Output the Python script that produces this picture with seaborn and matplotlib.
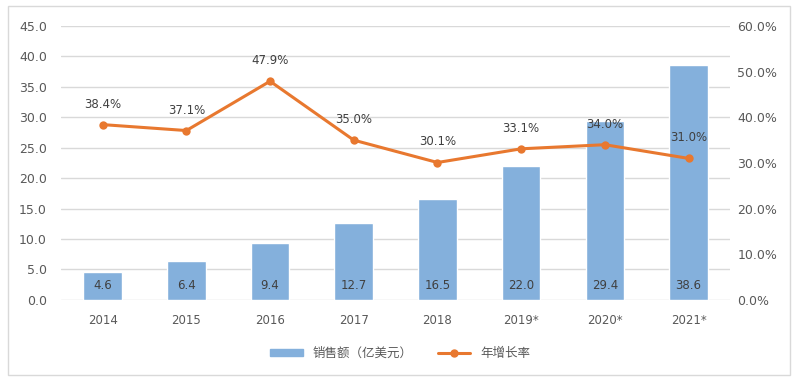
import numpy as np
import matplotlib.pyplot as plt
import seaborn as sns
from matplotlib.patches import Rectangle
from matplotlib.lines import Line2D

# === Data ===
years = ['2014', '2015', '2016', '2017', '2018', '2019*', '2020*', '2021*']
sales = [4.6, 6.4, 9.4, 12.7, 16.5, 22.0, 29.4, 38.6]          # 亿美元
growth = [38.4, 37.1, 47.9, 35.0, 30.1, 33.1, 34.0, 31.0]      # %
left_ticks = [0, 5, 10, 15, 20, 25, 30, 35, 40, 45]
right_ticks = [0, 10, 20, 30, 40, 50, 60]

bar_color = '#84B0DC'
line_color = '#E8782F'
text_color = '#595959'

# === Style ===
sns.set_theme(style='white')
plt.rcParams['font.family'] = ['DejaVu Sans', 'Noto Sans CJK SC']

fig = plt.figure(figsize=(8, 3.88), dpi=100)
ax = fig.add_axes([0.076, 0.227, 0.837, 0.706])

# outer frame
fig.patches.append(Rectangle((0.01, 0.033), 0.978, 0.952, transform=fig.transFigure,
                             fill=False, edgecolor='#D9D9D9', linewidth=1))

# === Bars ===
sns.barplot(x=years, y=sales, color=bar_color, width=0.46, saturation=1, ax=ax, zorder=2)
ax.set_ylim(0, 45)
ax.set_yticks(left_ticks)
ax.set_yticklabels([f'{t:.1f}' for t in left_ticks], fontsize=9, color=text_color)
ax.set_xlim(-0.5, len(years) - 0.5)
ax.tick_params(axis='x', labelsize=8.5, colors=text_color, length=0, pad=10)
ax.tick_params(axis='y', length=0, pad=10)
ax.grid(axis='y', color='#D9D9D9', linewidth=1, zorder=0)
ax.set_axisbelow(True)
for s in ax.spines.values():
    s.set_visible(False)
ax.set_xlabel('')
ax.set_ylabel('')

for i, v in enumerate(sales):
    ax.text(i, 2.3, f'{v:.1f}', ha='center', va='center', fontsize=8.5, color='#404040', zorder=3)

# === Growth line ===
ax2 = ax.twinx()
sns.lineplot(x=np.arange(len(years)), y=growth, ax=ax2, color=line_color, linewidth=2.2,
             marker='o', markersize=6, markeredgewidth=0, zorder=4)
ax2.set_ylim(0, 60)
ax2.set_yticks(right_ticks)
ax2.set_yticklabels([f'{t:.1f}%' for t in right_ticks], fontsize=9, color=text_color)
ax2.tick_params(axis='y', length=0, pad=5)
for s in ax2.spines.values():
    s.set_visible(False)
ax2.grid(False)

for i, g in enumerate(growth):
    ax2.text(i, g + 4.5, f'{g:.1f}%', ha='center', va='center', fontsize=8.5, color='#404040')

# === Legend ===
handles = [Rectangle((0, 0), 1, 1, color=bar_color),
           Line2D([], [], color=line_color, linewidth=2.2, marker='o', markersize=5)]
fig.legend(handles, ['销售额（亿美元）', '年增长率'], loc='center', bbox_to_anchor=(0.5, 0.09),
           ncol=2, frameon=False, labelcolor=text_color,
           handlelength=2.6, handleheight=0.5, columnspacing=2.0,
           prop={'family': ['Noto Sans CJK SC', 'DejaVu Sans'], 'size': 9})

fig.savefig('out.png', dpi=100)
